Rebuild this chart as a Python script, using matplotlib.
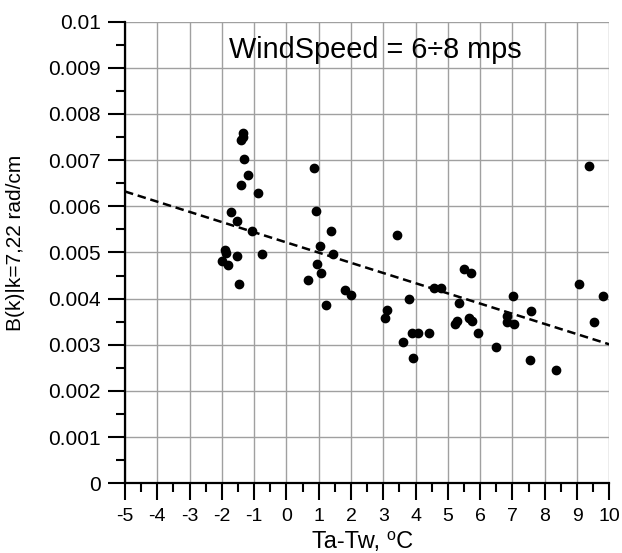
import numpy as np
import matplotlib
matplotlib.use('Agg')
import matplotlib.pyplot as plt

plt.rcParams['font.family'] = ['Liberation Sans', 'DejaVu Sans']

dt = [-1.35, -1.34, -1.40, -1.32, -1.19, -1.41, -0.87, 0.86, -1.72, -1.53,
      -1.06, 0.92, 1.37, -1.90, -1.88, -2.01, -1.80, -1.53, -0.76, 1.03,
      1.45, 0.96, 1.07, 0.67, -1.47, 1.80, 2.00, 1.23, 3.12, 3.05,
      3.79, 4.58, 4.78, 3.90, 4.07, 4.41, 3.60, 3.93, 5.49, 5.71,
      5.34, 5.64, 5.76, 5.23, 5.29, 5.94, 6.50, 7.01, 6.84, 6.84,
      7.05, 7.56, 7.53, 8.36, 9.07, 9.81, 9.52, 9.36, 3.42]
bk = [0.00758, 0.00751, 0.00743, 0.00702, 0.00668, 0.00645, 0.00628, 0.00683, 0.00587, 0.00569,
      0.00547, 0.00589, 0.00547, 0.00505, 0.00498, 0.00481, 0.00472, 0.00492, 0.00496, 0.00515,
      0.00497, 0.00476, 0.00456, 0.00440, 0.00432, 0.00419, 0.00407, 0.00387, 0.00375, 0.00358,
      0.00399, 0.00424, 0.00424, 0.00325, 0.00325, 0.00325, 0.00306, 0.00272, 0.00465, 0.00456,
      0.00390, 0.00359, 0.00352, 0.00346, 0.00351, 0.00325, 0.00296, 0.00406, 0.00362, 0.00349,
      0.00346, 0.00373, 0.00268, 0.00246, 0.00431, 0.00406, 0.00350, 0.00687, 0.00538]

# trend line ends
trend_x = [-5, 10]
trend_y = [0.00632, 0.00301]

xticks = list(range(-5, 11))
yticks = [0, 0.001, 0.002, 0.003, 0.004, 0.005, 0.006, 0.007, 0.008, 0.009, 0.01]
ylabels = ['0', '0.001', '0.002', '0.003', '0.004', '0.005', '0.006', '0.007', '0.008', '0.009', '0.01']

fig = plt.figure(figsize=(6.22, 5.53), dpi=100)
ax = fig.add_axes([0.201, 0.126, 0.7786, 0.835])

ax.plot(dt, bk, 'o', color='black', markersize=6, zorder=3)
ax.plot(trend_x, trend_y, color='black', lw=1.8, dashes=(3.4, 1.9), zorder=2)

ax.set_xlim(-5, 10)
ax.set_ylim(0, 0.01)
ax.set_xticks(xticks)
ax.set_xticklabels([str(t) for t in xticks])
ax.set_xticks(np.arange(-5, 10.01, 0.5), minor=True)
ax.set_yticks(yticks)
ax.set_yticklabels(ylabels)
ax.set_yticks(np.arange(0, 0.01001, 0.0005), minor=True)

ax.grid(True, which='major', color='#a0a0a0', lw=1.0, zorder=0)
ax.set_axisbelow(True)
ax.tick_params(which='major', direction='out', length=12, width=1.5, pad=5.5)
ax.tick_params(axis='x', labelsize=14)
ax.tick_params(axis='y', labelsize=15)
ax.tick_params(which='minor', direction='out', length=6.5, width=1.5)
for s in ['top', 'right']:
    ax.spines[s].set_visible(False)
for s in ['left', 'bottom']:
    ax.spines[s].set_linewidth(1.6)

ax.set_xlabel('Ta-Tw, \u2070C', fontsize=17)
ax.xaxis.set_label_coords(0.491, -0.103)
ax.set_ylabel('B(k)|k=7,22 rad/cm', fontsize=15)
ax.yaxis.set_label_coords(-0.206, 0.52)

ax.text(2.74, 0.00938, 'WindSpeed = 6\u00f78 mps', fontsize=20.8, ha='center', va='center')

fig.savefig('out.png', dpi=100)
